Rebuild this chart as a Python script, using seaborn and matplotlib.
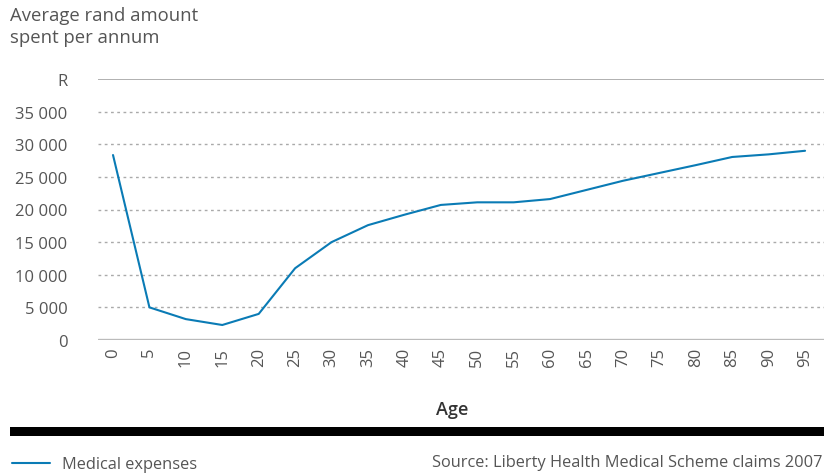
import pandas as pd
import matplotlib.pyplot as plt
import seaborn as sns

ages = [0, 5, 10, 15, 20, 25, 30, 35, 40, 45, 50, 55, 60, 65, 70, 75, 80, 85, 90, 95]
expenses = [28350, 5000, 3200, 2300, 4000, 11000, 15000, 17600, 19200, 20700,
            21100, 21100, 21600, 23000, 24400, 25600, 26800, 28050, 28450, 29000]
y_ticks = [0, 5000, 10000, 15000, 20000, 25000, 30000, 35000, 40000]
y_labels = ['0', '5 000', '10 000', '15 000', '20 000', '25 000', '30 000', '35 000', 'R']

df = pd.DataFrame({'Age': ages, 'Medical expenses': expenses})

sns.set_style('white')
plt.rcParams['font.family'] = ['Open Sans', 'DejaVu Sans']

grey = '#555555'
blue = '#0a7bb5'

fig = plt.figure(figsize=(8.24, 4.77), dpi=100)
ax = fig.add_axes([98 / 824, 1 - 341 / 477, 726 / 824, 261 / 477])

# grid lines
for v in y_ticks[1:-1]:
    ax.axhline(v, color='#aaaaaa', lw=1, ls=(0, (2, 2.5)), zorder=0)
ax.axhline(40000, color='#aaaaaa', lw=1.3, zorder=0)
ax.axhline(0, color='#bbbbbb', lw=2.4, zorder=1)

sns.lineplot(data=df, x='Age', y='Medical expenses', color=blue, lw=1.5, ax=ax, zorder=3)

ax.set_xlim(-2.06, 97.6)
ax.set_ylim(0, 40000)
ax.set_yticks(y_ticks)
ax.set_yticklabels(y_labels)
ax.set_xticks(ages)
ax.set_xticklabels([str(a) for a in ages], rotation=90)
ax.tick_params(axis='y', length=0, pad=22, labelsize=12, labelcolor=grey)
ax.tick_params(axis='x', length=0, pad=5, labelsize=12, labelcolor=grey)
for s in ax.spines.values():
    s.set_visible(False)
ax.set_xlabel('')
ax.set_ylabel('')

fig.text(10 / 824, 1 - 7 / 477, 'Average rand amount\nspent per annum', ha='left', va='top',
         fontsize=13.3, color=grey, linespacing=1.3)
fig.text(452 / 824, 1 - 410 / 477, 'Age', ha='center', va='center', fontsize=13,
         color='#333333', fontweight='semibold')

# black bar
fig.add_artist(plt.Rectangle((10 / 824, 1 - 437 / 477), 814 / 824, 9 / 477,
                             transform=fig.transFigure, color='black', lw=0))

# legend
fig.add_artist(plt.Line2D([12 / 824, 50 / 824], [1 - 464 / 477, 1 - 464 / 477],
                          transform=fig.transFigure, color=blue, lw=1.5))
fig.text(62 / 824, 1 - 465 / 477, 'Medical expenses', ha='left', va='center',
         fontsize=11.8, color=grey)
fig.text(822 / 824, 1 - 463 / 477, 'Source: Liberty Health Medical Scheme claims 2007',
         ha='right', va='center', fontsize=11.8, color=grey)

plt.savefig('out.png', dpi=100)
plt.close()
